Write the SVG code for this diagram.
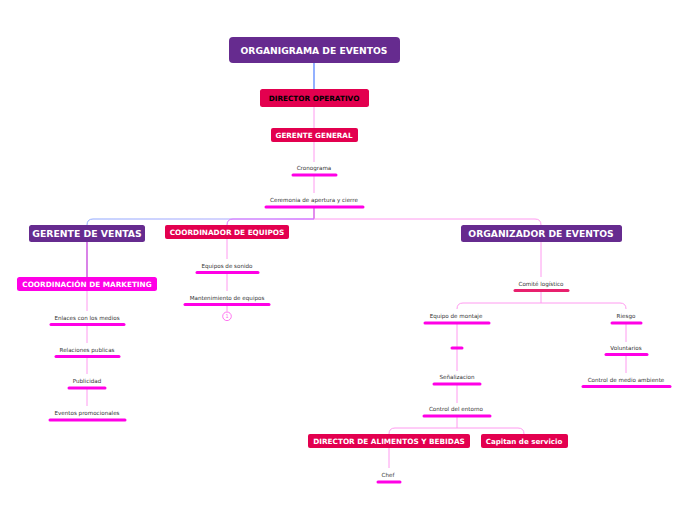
<svg xmlns="http://www.w3.org/2000/svg" width="696" height="520" viewBox="0 0 696 520">
<defs>
<style>
.bg{fill:#ffffff}
.pur{fill:#662b8f}
.red{fill:#e3004f}
.mag{fill:#ff00e6}
.tw{fill:#ffffff;font-family:"DejaVu Sans",Verdana,sans-serif;font-weight:bold;text-anchor:middle}
.tb{fill:#000000;font-family:"DejaVu Sans",Verdana,sans-serif;font-weight:bold;text-anchor:middle}
.ts{fill:#333333;font-family:"DejaVu Sans",Verdana,sans-serif;font-size:5.6px;text-anchor:middle}
.ul{stroke:#ff00e6;stroke-width:3;stroke-linecap:round}
.c{fill:none;stroke:#ff9af0;stroke-width:1}
</style>
<linearGradient id="gL" x1="0" y1="0" x2="1" y2="0">
<stop offset="0" stop-color="#8fa8ff"/>
<stop offset="0.8" stop-color="#b0a8ff"/>
<stop offset="1" stop-color="#c070ff"/>
</linearGradient>
</defs>
<rect class="bg" x="0" y="0" width="696" height="520"/>

<g id="connectors">
<line x1="314" y1="62" x2="314" y2="89" stroke="#4a7cff" stroke-width="1.2"/>
<line class="c" x1="314" y1="106" x2="314" y2="128"/>
<line class="c" x1="314" y1="141" x2="314" y2="162"/>
<line class="c" x1="314" y1="176" x2="314" y2="193"/>
<line x1="314" y1="208" x2="314" y2="219" stroke="#d040e0" stroke-width="1.2"/>
<path d="M314 219 H93 Q87 219 87 225" fill="none" stroke="url(#gL)" stroke-width="1"/>
<path d="M314 219 H233 Q227 219 227 225" fill="none" stroke="#e070ff" stroke-width="1"/>
<path d="M314 219 H535 Q541 219 541 225" class="c"/>
<line x1="87" y1="241" x2="87" y2="277" stroke="#c030d8" stroke-width="1.2"/>
<line class="c" x1="87" y1="291" x2="87" y2="311"/>
<line class="c" x1="87" y1="325" x2="87" y2="343"/>
<line class="c" x1="87" y1="357" x2="87" y2="374"/>
<line class="c" x1="87" y1="389" x2="87" y2="406"/>
<line class="c" x1="227" y1="239" x2="227" y2="259"/>
<line class="c" x1="227" y1="273" x2="227" y2="291"/>
<line class="c" x1="227" y1="305" x2="227" y2="311.5"/>
<line class="c" x1="541" y1="242" x2="541" y2="277"/>
<path class="c" d="M541 291 V303 M541 303 H463 Q457 303 457 309 M541 303 H620 Q626 303 626 309"/>
<line class="c" x1="457" y1="324" x2="457" y2="347"/>
<line class="c" x1="457" y1="349" x2="457" y2="371"/>
<line class="c" x1="457" y1="385" x2="457" y2="403"/>
<path class="c" d="M457 417 V428 M457 428 H395 Q389 428 389 434 M457 428 H518 Q524 428 524 434"/>
<line class="c" x1="389" y1="448" x2="389" y2="468"/>
<line class="c" x1="626" y1="324" x2="626" y2="342"/>
<line class="c" x1="626" y1="355" x2="626" y2="373"/>
</g>

<g id="root"><rect class="pur" x="229" y="37" width="171" height="26" rx="4"/><text class="tw" x="314" y="53.5" font-size="9.2">ORGANIGRAMA DE EVENTOS</text></g>
<g id="director-operativo"><rect class="red" x="260" y="89" width="109" height="18" rx="2.5"/><text class="tb" x="314" y="100.6" font-size="7.3">DIRECTOR OPERATIVO</text></g>
<g id="gerente-general"><rect class="red" x="271" y="128" width="87" height="14" rx="2"/><text class="tw" x="314" y="137.6" font-size="7.2">GERENTE GENERAL</text></g>
<g id="cronograma"><text class="ts" x="314" y="170">Cronograma</text><line class="ul" x1="293" y1="175" x2="336" y2="175"/></g>
<g id="ceremonia"><text class="ts" x="314" y="202">Ceremonia de apertura y cierre</text><line class="ul" x1="266" y1="207" x2="363" y2="207"/></g>

<g id="gerente-ventas"><rect class="pur" x="29" y="225" width="116" height="17" rx="2.5"/><text class="tw" x="87" y="237.2" font-size="9.3">GERENTE DE VENTAS</text></g>
<g id="coord-marketing"><rect class="mag" x="17" y="277" width="140" height="14" rx="2.5"/><text class="tw" x="87" y="287" font-size="7.3">COORDINACIÓN DE MARKETING</text></g>
<g id="enlaces"><text class="ts" x="87" y="320">Enlaces con los medios</text><line class="ul" x1="51" y1="324.5" x2="124" y2="324.5"/></g>
<g id="relaciones"><text class="ts" x="87" y="352">Relaciones publicas</text><line class="ul" x1="56" y1="356.5" x2="119" y2="356.5"/></g>
<g id="publicidad"><text class="ts" x="87" y="383">Publicidad</text><line class="ul" x1="69" y1="388" x2="105" y2="388"/></g>
<g id="eventos-promo"><text class="ts" x="87" y="415">Eventos promocionales</text><line class="ul" x1="50" y1="420" x2="125" y2="420"/></g>

<g id="coord-equipos"><rect class="red" x="165" y="225" width="124" height="14" rx="2"/><text class="tw" x="227" y="235" font-size="7.3">COORDINADOR DE EQUIPOS</text></g>
<g id="equipos-sonido"><text class="ts" x="227" y="268">Equipos de sonido</text><line class="ul" x1="197" y1="272.5" x2="258" y2="272.5"/></g>
<g id="mantenimiento"><text class="ts" x="227" y="300">Mantenimiento de equipos</text><line class="ul" x1="185" y1="304.5" x2="269" y2="304.5"/></g>
<g id="badge"><circle cx="227" cy="316.3" r="4.3" fill="#ffffff" stroke="#ff66ee" stroke-width="0.9"/><text x="227" y="318.3" font-family="DejaVu Sans,sans-serif" font-size="5" fill="#ff66ee" text-anchor="middle">1</text></g>

<g id="organizador"><rect class="pur" x="461" y="225" width="161" height="17" rx="2.5"/><text class="tw" x="541" y="237.2" font-size="9.2">ORGANIZADOR DE EVENTOS</text></g>
<g id="comite"><text class="ts" x="541" y="286">Comité logístico</text><line x1="515" y1="290.5" x2="568" y2="290.5" stroke="#e8206e" stroke-width="3" stroke-linecap="round"/></g>
<g id="equipo-montaje"><text class="ts" x="456" y="318">Equipo de montaje</text><line class="ul" x1="425" y1="323" x2="489" y2="323"/></g>
<g id="empty"><line class="ul" x1="452" y1="348" x2="462" y2="348"/></g>
<g id="senalizacion"><text class="ts" x="457" y="379">Señalizacion</text><line class="ul" x1="434" y1="384" x2="480" y2="384"/></g>
<g id="control-entorno"><text class="ts" x="456" y="411">Control del entorno</text><line class="ul" x1="424" y1="416" x2="490" y2="416"/></g>
<g id="director-alimentos"><rect class="red" x="308" y="434" width="162" height="14" rx="2"/><text class="tw" x="389" y="444" font-size="7.3">DIRECTOR DE ALIMENTOS Y BEBIDAS</text></g>
<g id="capitan"><rect class="red" x="481" y="434" width="87" height="14" rx="2"/><text class="tw" x="524" y="444" font-size="7.1">Capitan de servicio</text></g>
<g id="chef"><text class="ts" x="388" y="477">Chef</text><line class="ul" x1="378" y1="482" x2="400" y2="482"/></g>
<g id="riesgo"><text class="ts" x="626" y="318">Riesgo</text><line class="ul" x1="612" y1="323" x2="641" y2="323"/></g>
<g id="voluntarios"><text class="ts" x="626" y="350">Voluntarios</text><line class="ul" x1="606" y1="354.5" x2="647" y2="354.5"/></g>
<g id="control-medio"><text class="ts" x="626" y="382">Control de medio ambiente</text><line class="ul" x1="583" y1="386.5" x2="670" y2="386.5"/></g>
</svg>
